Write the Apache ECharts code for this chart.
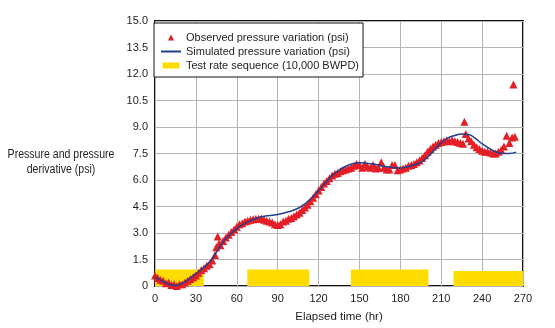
<!DOCTYPE html>
<html><head><meta charset="utf-8">
<script src="https://cdn.jsdelivr.net/npm/echarts@6/dist/echarts.min.js"></script>
<style>html,body{margin:0;padding:0;background:#fff}#c{width:555px;height:328px}</style>
</head><body><div id="c"></div>
<script>
// Observed pressure variation (psi): [elapsed hr, psi]
const observedT = [0,2,4,6,8,10,12,14,16,18,20,22,24,26,28,30,32,34,36,38,40,42,44,45,46,47,48,50,52,54,56,58,60,62,64,66,68,70,72,74,76,78,80,82,84,86,88,90,92,94,96,98,100,102,104,106,108,110,112,114,116,118,120,122,124,126,128,130,132,134,136,138,140,142,144,146,148,150,152,154,156,158,160,162,164,166,168,170,172,174,176,178,180,182,184,186,188,190,192,194,196,198,200,202,204,206,208,210,212,214,216,218,220,222,224,226,227,228,230,232,234,236,238,240,242,244,246,248,250,252,254,256,258,260,262,263,264];
const observedV = [0.6,0.45,0.35,0.3,0.15,0.2,0.05,0.1,0.0,0.1,0.1,0.2,0.3,0.4,0.5,0.6,0.75,0.9,1.0,1.15,1.25,1.45,1.75,2.2,2.8,2.4,2.3,2.55,2.75,2.9,3.05,3.2,3.35,3.5,3.55,3.65,3.7,3.75,3.78,3.8,3.8,3.8,3.75,3.7,3.65,3.6,3.5,3.45,3.5,3.65,3.7,3.8,3.85,3.95,4.05,4.15,4.3,4.45,4.6,4.8,5.0,5.2,5.4,5.6,5.8,5.95,6.1,6.25,6.35,6.4,6.5,6.55,6.6,6.65,6.7,6.8,6.9,6.85,6.7,6.9,6.75,6.7,6.85,6.65,6.7,7.0,6.7,6.6,6.6,6.85,6.85,6.55,6.6,6.65,6.7,6.8,6.85,6.9,7.0,7.1,7.25,7.4,7.6,7.75,7.9,8.0,8.1,8.15,8.2,8.25,8.2,8.25,8.2,8.15,8.1,8.05,9.3,8.6,8.35,8.2,8.0,7.85,7.75,7.65,7.6,7.6,7.55,7.5,7.5,7.6,7.7,7.9,8.5,8.1,8.4,11.4,8.45];
// Simulated pressure variation (psi)
const simT = [0,5,10,15,20,25,30,35,40,45,50,55,60,65,70,75,80,90,100,105,110,115,120,125,130,135,140,145,150,155,160,165,170,175,180,185,190,195,200,205,210,215,220,225,230,235,240,245,250,255,260,265];
const simV = [0.5,0.3,0.1,0.03,0.15,0.4,0.7,1.0,1.36,1.9,2.5,2.9,3.25,3.5,3.7,3.85,3.95,4.05,4.25,4.4,4.65,5.0,5.4,5.85,6.25,6.55,6.78,6.92,6.97,6.95,6.9,6.82,6.75,6.7,6.68,6.75,6.85,7.0,7.3,7.7,8.1,8.38,8.52,8.6,8.58,8.35,8.05,7.8,7.6,7.5,7.5,7.58];
// Test rate sequence (10,000 BWPD): start hr, end hr, bar height on psi axis
const rateStart = [0, 67.7, 143.7, 219];
const rateEnd = [35.8, 113.3, 200.6, 270];
const rateLevel = [0.94, 0.94, 0.94, 0.85];
// Tick labels
const xTicks = ['0','30','60','90','120','150','180','210','240','270'];
const yTicks = ['0','1.5','3.0','4.5','6.0','7.5','9.0','10.5','12.0','13.5','15.0'];

const names = ['Observed pressure variation (psi)','Simulated pressure variation (psi)','Test rate sequence (10,000 BWPD)'];
const FONT = "'Liberation Sans',Arial,sans-serif";
const TXT = '#1e1e1e';
const RED = '#e41e26';
const chart = echarts.init(document.getElementById('c'), null, {renderer:'canvas'});
chart.setOption({
  animation:false,
  backgroundColor:'#fff',
  textStyle:{fontFamily:FONT},
  grid:{left:155,right:32,top:21,bottom:42,show:true,borderColor:'#111',borderWidth:2,backgroundColor:'transparent'},
  legend:{
    orient:'vertical', left:154, top:23, data:[
      {name:names[0], icon:'path://M3,0L6,6L0,6Z', itemStyle:{color:RED}},
      {name:names[1], icon:'path://M0,0L20,0L20,2L0,2Z', itemStyle:{color:'#1f3f8f'}},
      {name:names[2], icon:'path://M0,0L14,0L14,5L0,5Z', itemStyle:{color:'#ffdc00'}}
    ],
    symbolKeepAspect:true,
    itemWidth:20, itemHeight:6, itemGap:1,
    padding:[8,4,5,7], borderColor:'#111', borderWidth:1, backgroundColor:'#fff',
    textStyle:{fontFamily:FONT, fontSize:11, color:TXT, lineHeight:13}
  },
  xAxis:{type:'value', min:0, max:270, interval:30,
    name:'Elapsed time (hr)', nameLocation:'middle', nameGap:25,
    nameTextStyle:{fontFamily:FONT,fontSize:11.5,color:TXT},
    axisLine:{show:false}, axisTick:{show:false},
    axisLabel:{fontFamily:FONT,fontSize:11,color:TXT,margin:7, formatter:(v)=>xTicks[Math.round(v/30)]},
    splitLine:{show:true,lineStyle:{color:'#b4b4b4',width:1}}
  },
  yAxis:{type:'value', min:0, max:15, interval:1.5,
    axisLine:{show:false}, axisTick:{show:false},
    axisLabel:{fontFamily:FONT,fontSize:11,color:TXT,margin:7, formatter:(v)=>yTicks[Math.round(v/1.5)]},
    splitLine:{show:true,lineStyle:{color:'#b4b4b4',width:1}}
  },
  graphic:[{type:'text', x:61, y:147, scaleX:0.88,
    style:{text:'Pressure and pressure\nderivative (psi)', align:'center', verticalAlign:'top', fontFamily:FONT, fontSize:12, fill:TXT, lineHeight:15}}],
  series:[
    {name:names[2], type:'custom', z:1, itemStyle:{color:'#ffdc00'},
      data:rateStart.map((s,i)=>[s,rateEnd[i],rateLevel[i]]),
      encode:{x:[0,1],y:2},
      renderItem:(params,api)=>{
        const p0 = api.coord([api.value(0), api.value(2)]);
        const p1 = api.coord([api.value(1), 0]);
        return {type:'rect', shape:{x:p0[0],y:p0[1],width:p1[0]-p0[0],height:p1[1]-p0[1]}, style:{fill:'#ffdc00'}};
      }
    },
    {name:names[0], type:'scatter', z:3, symbol:'triangle', symbolSize:8,
      itemStyle:{color:RED, opacity:1},
      data:observedT.map((t,i)=>[t,observedV[i]])},
    {name:names[1], type:'line', z:4, symbol:'none', smooth:true,
      lineStyle:{color:'#1f3f8f',width:1.5}, itemStyle:{color:'#1f3f8f'},
      data:simT.map((t,i)=>[t,simV[i]])}
  ]
});
</script></body></html>
